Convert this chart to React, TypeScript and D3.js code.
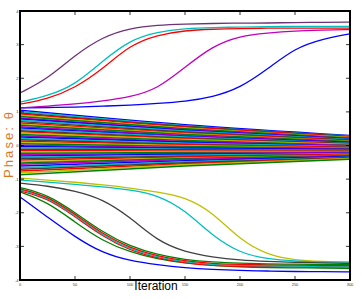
import React, { useEffect, useRef } from 'react';
import * as d3 from 'd3';

// iteration samples used by the separated trajectories
const iterations = [0, 25, 50, 75, 100, 125, 150, 175, 200, 225, 250, 275, 300];

// trajectories that leave the bundle upwards
const purpleTop = [1.56, 1.98, 2.69, 3.23, 3.49, 3.58, 3.61, 3.63, 3.64, 3.64, 3.66, 3.66, 3.67];
const cyanTop = [1.29, 1.47, 1.8, 2.51, 3.14, 3.38, 3.48, 3.51, 3.52, 3.54, 3.54, 3.54, 3.54];
const redTop = [1.23, 1.38, 1.71, 2.27, 2.99, 3.29, 3.42, 3.46, 3.48, 3.49, 3.49, 3.49, 3.49];
const magentaTop = [1.12, 1.17, 1.23, 1.32, 1.44, 1.68, 2.33, 2.96, 3.26, 3.35, 3.41, 3.43, 3.45];
const blueTop = [1.12, 1.13, 1.14, 1.17, 1.2, 1.25, 1.31, 1.44, 1.71, 2.27, 2.9, 3.17, 3.32];

// trajectories that leave the bundle downwards
const grayLow = [-1.12, -1.2, -1.35, -1.59, -2.13, -2.84, -3.17, -3.32, -3.41, -3.45, -3.48, -3.49, -3.51];
const cyanLow = [-1.03, -1.09, -1.15, -1.23, -1.32, -1.47, -1.92, -2.69, -3.2, -3.38, -3.44, -3.47, -3.47];
const yellowLow = [-0.97, -1.03, -1.09, -1.17, -1.26, -1.38, -1.53, -1.98, -2.81, -3.26, -3.41, -3.45, -3.47];
const greenGroup = [-1.25, -1.46, -1.99, -2.58, -3.0, -3.25, -3.4, -3.47, -3.5, -3.52, -3.53, -3.54, -3.54];
const redGroup = [-1.29, -1.5, -2.04, -2.63, -3.05, -3.29, -3.44, -3.51, -3.54, -3.55, -3.56, -3.57, -3.57];
const cyanGroup = [-1.32, -1.53, -2.08, -2.67, -3.09, -3.32, -3.47, -3.54, -3.57, -3.58, -3.59, -3.6, -3.6];
const redGroup2 = [-1.35, -1.56, -2.11, -2.7, -3.12, -3.35, -3.5, -3.57, -3.59, -3.61, -3.61, -3.62, -3.62];
const greenLow = [-1.38, -1.68, -2.28, -2.84, -3.17, -3.38, -3.49, -3.57, -3.61, -3.63, -3.64, -3.64, -3.66];
const blueLow = [-1.53, -2.13, -2.72, -3.2, -3.43, -3.55, -3.64, -3.69, -3.72, -3.73, -3.75, -3.75, -3.76];

// the central bundle: phase at iteration 0, 150 and 300
const bundleIters = [0, 150, 300];
const bundleStart = [1.05, 1.01, 0.97, 0.94, 0.9, 0.86, 0.82, 0.79, 0.75, 0.71, 0.67, 0.63, 0.6, 0.56, 0.52, 0.48,
  0.44, 0.41, 0.37, 0.33, 0.29, 0.25, 0.21, 0.17, 0.13, 0.09, 0.05, 0.01, -0.03, -0.07, -0.11, -0.15,
  -0.19, -0.23, -0.27, -0.31, -0.35, -0.39, -0.43, -0.48, -0.52, -0.56, -0.61, -0.66, -0.71, -0.76, -0.81, -0.87];
const bundleMid = [0.62, 0.59, 0.57, 0.55, 0.52, 0.5, 0.47, 0.45, 0.43, 0.4, 0.37, 0.35, 0.33, 0.3, 0.27, 0.25,
  0.22, 0.2, 0.18, 0.15, 0.12, 0.1, 0.07, 0.04, 0.02, -0.01, -0.03, -0.06, -0.08, -0.11, -0.13, -0.16,
  -0.18, -0.21, -0.24, -0.26, -0.29, -0.32, -0.34, -0.37, -0.39, -0.42, -0.45, -0.48, -0.51, -0.54, -0.57, -0.61];
const bundleEnd = [0.3, 0.28, 0.27, 0.25, 0.24, 0.22, 0.21, 0.19, 0.18, 0.16, 0.15, 0.13, 0.12, 0.1, 0.09, 0.07,
  0.06, 0.04, 0.03, 0.01, 0.0, -0.02, -0.03, -0.05, -0.06, -0.08, -0.09, -0.11, -0.12, -0.14, -0.15, -0.17,
  -0.18, -0.2, -0.21, -0.23, -0.24, -0.26, -0.27, -0.29, -0.3, -0.32, -0.33, -0.35, -0.36, -0.38, -0.39, -0.41];

const xTicks = [0, 50, 100, 150, 200, 250, 300];
const yTicks = [-4, -3, -2, -1, 0, 1, 2, 3, 4];

// classic matlab line colours
const palette = ['#0000ff', '#008000', '#ff0000', '#00bfbf', '#bf00bf', '#bfbf00', '#404040'];

function PhaseChart() {
  const svgRef = useRef<SVGSVGElement>(null);

  useEffect(() => {
    const svg = d3.select(svgRef.current);
    svg.selectAll('*').remove();

    const width = 362;
    const height = 299;
    const margin = { top: 11, right: 12, bottom: 19, left: 20 };

    svg.attr('width', width).attr('height', height);

    const x = d3.scaleLinear().domain([0, 300]).range([margin.left, width - margin.right]);
    const y = d3.scaleLinear().domain([-4, 4]).range([height - margin.bottom, margin.top]);

    const bundleLine = d3.line<[number, number]>()
      .x((d) => x(d[0]))
      .y((d) => y(d[1]))
      .curve(d3.curveMonotoneX);

    const smoothLine = d3.line<[number, number]>()
      .x((d) => x(d[0]))
      .y((d) => y(d[1]))
      .curve(d3.curveBasis);

    const plot = svg.append('g');

    // bundle
    bundleStart.forEach((s, i) => {
      const pts: [number, number][] = [s, bundleMid[i], bundleEnd[i]].map((v, j) => [bundleIters[j], v]);
      plot.append('path')
        .attr('d', bundleLine(pts))
        .attr('fill', 'none')
        .attr('stroke', palette[(i * 3) % 7])
        .attr('stroke-width', 1.5);
    });

    const singles: [number[], string][] = [
      [yellowLow, '#bfbf00'],
      [cyanLow, '#00bfbf'],
      [grayLow, '#404040'],
      [blueLow, '#0000ff'],
      [greenLow, '#008000'],
      [redGroup2, '#ff0000'],
      [cyanGroup, '#00bfbf'],
      [redGroup, '#ff0000'],
      [greenGroup, '#008000'],
      [blueTop, '#0000ff'],
      [magentaTop, '#bf00bf'],
      [redTop, '#ff0000'],
      [cyanTop, '#00bfbf'],
      [purpleTop, '#6e3176'],
    ];

    singles.forEach(([vals, color]) => {
      const pts: [number, number][] = vals.map((v, j) => [iterations[j], v]);
      plot.append('path')
        .attr('d', smoothLine(pts))
        .attr('fill', 'none')
        .attr('stroke', color)
        .attr('stroke-width', 1.3);
    });

    // box and inward ticks
    const axes = svg.append('g').attr('stroke', '#000');
    const x0 = x(0), x1 = x(300), y0 = y(-4), y1 = y(4);

    xTicks.forEach((t) => {
      axes.append('line').attr('x1', x(t)).attr('x2', x(t)).attr('y1', y0).attr('y2', y0 - 4).attr('stroke-width', 0.8);
      axes.append('line').attr('x1', x(t)).attr('x2', x(t)).attr('y1', y1).attr('y2', y1 + 4).attr('stroke-width', 0.8);
    });
    yTicks.forEach((t) => {
      axes.append('line').attr('x1', x0).attr('x2', x0 + 4).attr('y1', y(t)).attr('y2', y(t)).attr('stroke-width', 0.8);
      axes.append('line').attr('x1', x1).attr('x2', x1 - 4).attr('y1', y(t)).attr('y2', y(t)).attr('stroke-width', 0.8);
    });

    axes.append('rect')
      .attr('x', x0).attr('y', y1)
      .attr('width', x1 - x0).attr('height', y0 - y1)
      .attr('fill', 'none')
      .attr('stroke-width', 2);

    // tiny tick labels
    svg.append('g').selectAll('text')
      .data(yTicks)
      .enter()
      .append('text')
      .attr('x', x0 - 1.5)
      .attr('y', (d) => y(d) + 1.5)
      .attr('text-anchor', 'end')
      .attr('font-family', 'Liberation Sans, Arial, sans-serif')
      .attr('font-size', 4)
      .attr('fill', '#333')
      .text((d) => d);

    svg.append('g').selectAll('text')
      .data(xTicks)
      .enter()
      .append('text')
      .attr('x', (d) => x(d))
      .attr('y', y0 + 5.5)
      .attr('text-anchor', 'middle')
      .attr('font-family', 'Liberation Sans, Arial, sans-serif')
      .attr('font-size', 4)
      .attr('fill', '#333')
      .text((d) => d);

    svg.append('text')
      .attr('x', 156)
      .attr('y', 290)
      .attr('text-anchor', 'middle')
      .attr('font-family', '"Liberation Sans Narrow", "Liberation Sans", Arial, sans-serif')
      .attr('font-size', 12)
      .attr('fill', '#000')
      .text('Iteration');

    svg.append('text')
      .attr('transform', 'translate(13,145) rotate(-90)')
      .attr('text-anchor', 'middle')
      .attr('font-family', 'Liberation Sans, Arial, sans-serif')
      .attr('font-size', 13)
      .attr('textLength', 66)
      .attr('lengthAdjust', 'spacing')
      .attr('fill', '#d9771e')
      .text('Phase:  θ');
  }, []);

  return <svg ref={svgRef} style={{ display: 'block' }}></svg>;
}

export default function App() {
  useEffect(() => {
    document.body.style.margin = '0';
  }, []);
  return <PhaseChart />;
}
